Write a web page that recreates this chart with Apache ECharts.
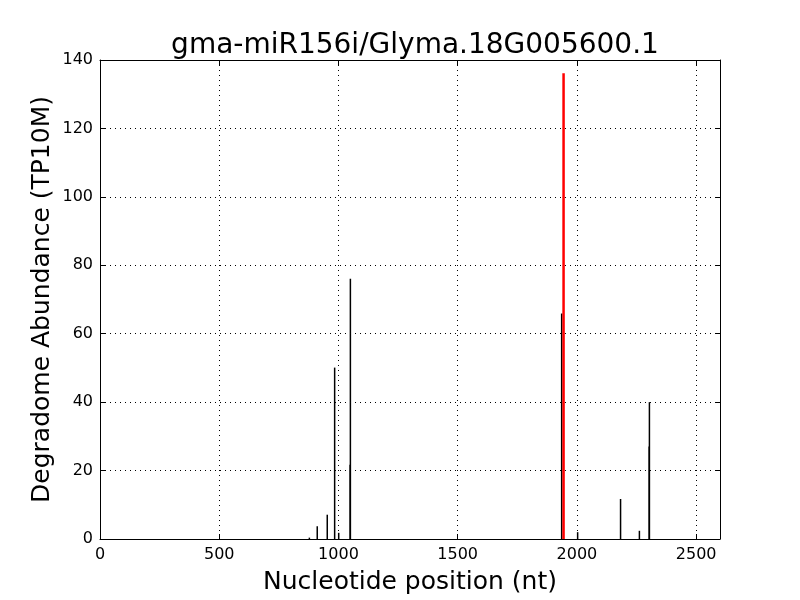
<!DOCTYPE html>
<html><head><meta charset="utf-8">
<script src="https://cdn.jsdelivr.net/npm/echarts@6/dist/echarts.min.js"></script>
<style>html,body{margin:0;padding:0;background:#fff}#c{width:800px;height:600px}</style>
</head><body><div id="c"></div>
<script>
var blackPositions = [878, 911, 953, 984, 1001, 1049, 1050, 1936, 2003, 2183, 2262, 2303, 2304];
var blackValues    = [0.4, 3.7, 7.1, 50.1, 1.8, 21.7, 76.1, 65.9, 2.0, 11.7, 2.4, 27.0, 40.0];
var redPositions = [1944];
var redValues    = [136.1];
var xTicks = [0, 500, 1000, 1500, 2000, 2500];
var yTicks = [0, 20, 40, 60, 80, 100, 120, 140];

function pairs(xs, ys){ return xs.map(function(x,i){ return [x, ys[i]]; }); }
function stick(width, color){
  return function(params, api){
    var top = api.coord([api.value(0), api.value(1)]);
    var base = api.coord([api.value(0), 0]);
    return {type:'line', shape:{x1:top[0], y1:top[1], x2:base[0], y2:base[1]},
      style:{stroke:color, lineWidth:width}};
  };
}
var font = 'DejaVu Sans';
var chart = echarts.init(document.getElementById('c'), null, {renderer:'canvas'});
var axisCommon = {
  axisLine:{show:true, onZero:false, lineStyle:{color:'#000', width:1}},
  axisTick:{show:true, inside:true, length:5, lineStyle:{color:'#000'}},
};
chart.setOption({
  animation:false,
  backgroundColor:'#fff',
  title:{text:'gma-miR156i/Glyma.18G005600.1', left:410, textAlign:'center', top:27,
    textStyle:{fontFamily:font, fontSize:28, fontWeight:'normal', color:'#000'}},
  grid:{left:100, right:80, top:60, bottom:60, show:false},
  xAxis:[
    Object.assign({type:'value', min:0, max:2600, interval:500, position:'bottom',
      name:'Nucleotide position (nt)', nameLocation:'middle', nameGap:31, nameMoveOverlap:false,
      nameTextStyle:{fontFamily:font, fontSize:25, color:'#000'},
      axisLabel:{fontFamily:font, fontSize:16, color:'#000', margin:8, showMaxLabel:false,
        formatter:function(v){ return xTicks.indexOf(v) >= 0 ? String(v) : ''; }},
      splitLine:{show:true, lineStyle:{color:'#000', type:[1,4], width:1}}}, axisCommon),
    Object.assign({type:'value', min:0, max:2600, interval:500, position:'top',
      axisLabel:{show:false}, splitLine:{show:false}}, axisCommon)
  ],
  yAxis:[
    Object.assign({type:'value', min:0, max:140, interval:20, position:'left',
      name:'Degradome Abundance (TP10M)', nameLocation:'middle', nameGap:45, nameMoveOverlap:false,
      nameTextStyle:{fontFamily:font, fontSize:25, color:'#000'},
      axisLabel:{fontFamily:font, fontSize:16, color:'#000', margin:7,
        formatter:function(v){ return yTicks.indexOf(v) >= 0 ? String(v) : ''; }},
      splitLine:{show:true, lineStyle:{color:'#000', type:[1,4], width:1}}}, axisCommon),
    Object.assign({type:'value', min:0, max:140, interval:20, position:'right',
      axisLabel:{show:false}, splitLine:{show:false}}, axisCommon)
  ],
  series:[
    {type:'custom', xAxisIndex:0, yAxisIndex:0, renderItem:stick(1.5,'#000'),
      data:pairs(blackPositions, blackValues), z:3},
    {type:'custom', xAxisIndex:0, yAxisIndex:0, renderItem:stick(2.5,'#ff0000'),
      data:pairs(redPositions, redValues), z:4}
  ]
});
</script></body></html>
